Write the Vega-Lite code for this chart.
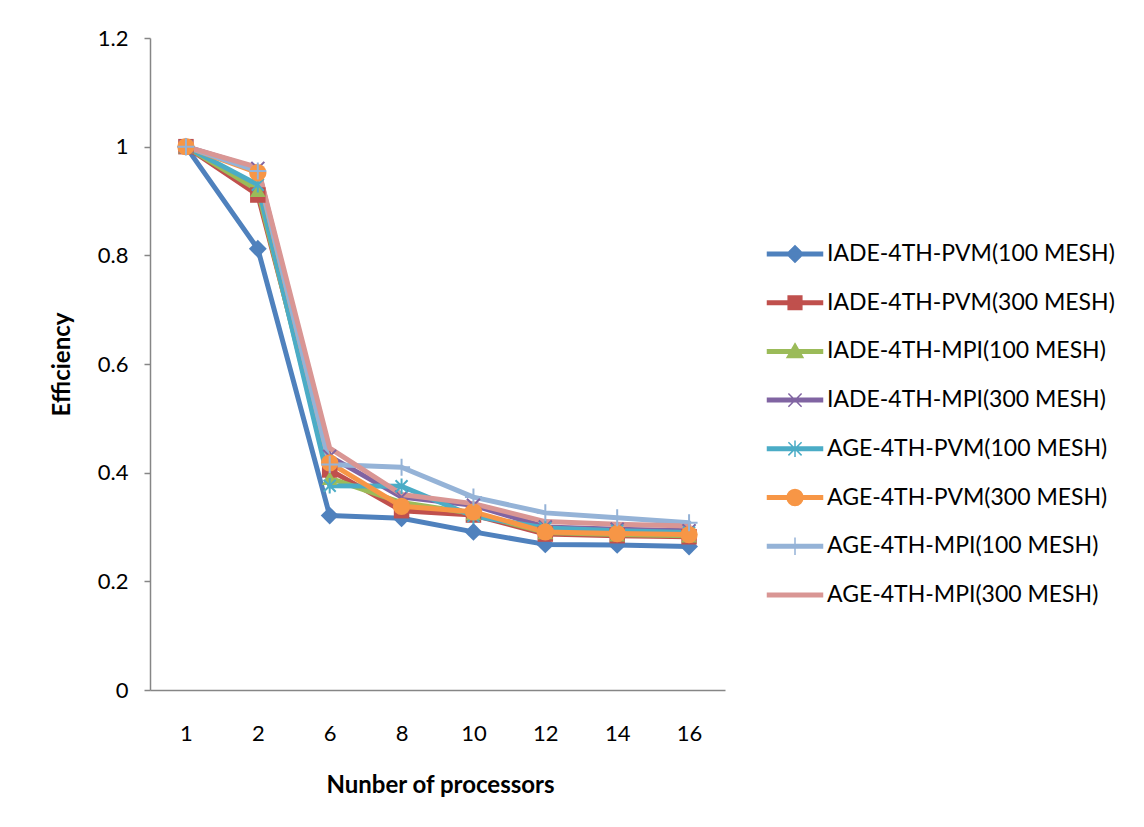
{
  "$schema": "https://vega.github.io/schema/vega-lite/v6.json",
  "width": 575,
  "height": 652,
  "autosize": {"type": "none"},
  "padding": {"left": 150, "top": 38, "right": 419, "bottom": 137},
  "background": "white",
  "config": {
    "view": {"stroke": null},
    "font": "Lato",
    "axis": {
      "labelFont": "Lato",
      "labelFontSize": 22,
      "labelColor": "#000000",
      "titleFont": "Lato",
      "titleFontSize": 24,
      "titleFontWeight": "bold",
      "titleColor": "#000000",
      "domainColor": "#868686",
      "domainWidth": 1.5,
      "tickColor": "#868686",
      "tickWidth": 1.5,
      "grid": false
    },
    "legend": {
      "labelFont": "Lato",
      "labelFontSize": 23,
      "labelColor": "#000000"
    }
  },
  "datasets": {
    "efficiency": [
      {"series": "IADE-4TH-PVM(100 MESH)", "processors": 1, "efficiency": 1},
      {"series": "IADE-4TH-PVM(100 MESH)", "processors": 2, "efficiency": 0.812},
      {"series": "IADE-4TH-PVM(100 MESH)", "processors": 6, "efficiency": 0.321},
      {"series": "IADE-4TH-PVM(100 MESH)", "processors": 8, "efficiency": 0.316},
      {"series": "IADE-4TH-PVM(100 MESH)", "processors": 10, "efficiency": 0.291},
      {"series": "IADE-4TH-PVM(100 MESH)", "processors": 12, "efficiency": 0.268},
      {"series": "IADE-4TH-PVM(100 MESH)", "processors": 14, "efficiency": 0.267},
      {"series": "IADE-4TH-PVM(100 MESH)", "processors": 16, "efficiency": 0.264},
      {"series": "IADE-4TH-PVM(300 MESH)", "processors": 1, "efficiency": 1},
      {"series": "IADE-4TH-PVM(300 MESH)", "processors": 2, "efficiency": 0.911},
      {"series": "IADE-4TH-PVM(300 MESH)", "processors": 6, "efficiency": 0.405},
      {"series": "IADE-4TH-PVM(300 MESH)", "processors": 8, "efficiency": 0.33},
      {"series": "IADE-4TH-PVM(300 MESH)", "processors": 10, "efficiency": 0.322},
      {"series": "IADE-4TH-PVM(300 MESH)", "processors": 12, "efficiency": 0.287},
      {"series": "IADE-4TH-PVM(300 MESH)", "processors": 14, "efficiency": 0.284},
      {"series": "IADE-4TH-PVM(300 MESH)", "processors": 16, "efficiency": 0.282},
      {"series": "IADE-4TH-MPI(100 MESH)", "processors": 1, "efficiency": 1},
      {"series": "IADE-4TH-MPI(100 MESH)", "processors": 2, "efficiency": 0.92},
      {"series": "IADE-4TH-MPI(100 MESH)", "processors": 6, "efficiency": 0.39},
      {"series": "IADE-4TH-MPI(100 MESH)", "processors": 8, "efficiency": 0.345},
      {"series": "IADE-4TH-MPI(100 MESH)", "processors": 10, "efficiency": 0.325},
      {"series": "IADE-4TH-MPI(100 MESH)", "processors": 12, "efficiency": 0.29},
      {"series": "IADE-4TH-MPI(100 MESH)", "processors": 14, "efficiency": 0.286},
      {"series": "IADE-4TH-MPI(100 MESH)", "processors": 16, "efficiency": 0.284},
      {"series": "IADE-4TH-MPI(300 MESH)", "processors": 1, "efficiency": 1},
      {"series": "IADE-4TH-MPI(300 MESH)", "processors": 2, "efficiency": 0.96},
      {"series": "IADE-4TH-MPI(300 MESH)", "processors": 6, "efficiency": 0.43},
      {"series": "IADE-4TH-MPI(300 MESH)", "processors": 8, "efficiency": 0.355},
      {"series": "IADE-4TH-MPI(300 MESH)", "processors": 10, "efficiency": 0.34},
      {"series": "IADE-4TH-MPI(300 MESH)", "processors": 12, "efficiency": 0.3},
      {"series": "IADE-4TH-MPI(300 MESH)", "processors": 14, "efficiency": 0.296},
      {"series": "IADE-4TH-MPI(300 MESH)", "processors": 16, "efficiency": 0.293},
      {"series": "AGE-4TH-PVM(100 MESH)", "processors": 1, "efficiency": 1},
      {"series": "AGE-4TH-PVM(100 MESH)", "processors": 2, "efficiency": 0.93},
      {"series": "AGE-4TH-PVM(100 MESH)", "processors": 6, "efficiency": 0.376},
      {"series": "AGE-4TH-PVM(100 MESH)", "processors": 8, "efficiency": 0.375},
      {"series": "AGE-4TH-PVM(100 MESH)", "processors": 10, "efficiency": 0.32},
      {"series": "AGE-4TH-PVM(100 MESH)", "processors": 12, "efficiency": 0.298},
      {"series": "AGE-4TH-PVM(100 MESH)", "processors": 14, "efficiency": 0.293},
      {"series": "AGE-4TH-PVM(100 MESH)", "processors": 16, "efficiency": 0.29},
      {"series": "AGE-4TH-PVM(300 MESH)", "processors": 1, "efficiency": 1},
      {"series": "AGE-4TH-PVM(300 MESH)", "processors": 2, "efficiency": 0.952},
      {"series": "AGE-4TH-PVM(300 MESH)", "processors": 6, "efficiency": 0.418},
      {"series": "AGE-4TH-PVM(300 MESH)", "processors": 8, "efficiency": 0.338},
      {"series": "AGE-4TH-PVM(300 MESH)", "processors": 10, "efficiency": 0.328},
      {"series": "AGE-4TH-PVM(300 MESH)", "processors": 12, "efficiency": 0.291},
      {"series": "AGE-4TH-PVM(300 MESH)", "processors": 14, "efficiency": 0.288},
      {"series": "AGE-4TH-PVM(300 MESH)", "processors": 16, "efficiency": 0.286},
      {"series": "AGE-4TH-MPI(100 MESH)", "processors": 1, "efficiency": 1},
      {"series": "AGE-4TH-MPI(100 MESH)", "processors": 2, "efficiency": 0.955},
      {"series": "AGE-4TH-MPI(100 MESH)", "processors": 6, "efficiency": 0.415},
      {"series": "AGE-4TH-MPI(100 MESH)", "processors": 8, "efficiency": 0.41},
      {"series": "AGE-4TH-MPI(100 MESH)", "processors": 10, "efficiency": 0.355},
      {"series": "AGE-4TH-MPI(100 MESH)", "processors": 12, "efficiency": 0.326},
      {"series": "AGE-4TH-MPI(100 MESH)", "processors": 14, "efficiency": 0.317},
      {"series": "AGE-4TH-MPI(100 MESH)", "processors": 16, "efficiency": 0.308},
      {"series": "AGE-4TH-MPI(300 MESH)", "processors": 1, "efficiency": 1},
      {"series": "AGE-4TH-MPI(300 MESH)", "processors": 2, "efficiency": 0.962},
      {"series": "AGE-4TH-MPI(300 MESH)", "processors": 6, "efficiency": 0.445},
      {"series": "AGE-4TH-MPI(300 MESH)", "processors": 8, "efficiency": 0.36},
      {"series": "AGE-4TH-MPI(300 MESH)", "processors": 10, "efficiency": 0.343},
      {"series": "AGE-4TH-MPI(300 MESH)", "processors": 12, "efficiency": 0.31},
      {"series": "AGE-4TH-MPI(300 MESH)", "processors": 14, "efficiency": 0.305},
      {"series": "AGE-4TH-MPI(300 MESH)", "processors": 16, "efficiency": 0.302}
    ]
  },
  "data": {"name": "efficiency"},
  "encoding": {
    "x": {
      "field": "processors",
      "type": "ordinal",
      "sort": "ascending",
      "axis": {
        "title": "Nunber of processors",
        "labelAngle": 0,
        "ticks": false,
        "tickSize": 0,
        "labelBaseline": "middle",
        "labelPadding": 43,
        "titleX": 290,
        "titleY": 95,
        "titleBaseline": "middle"
      }
    },
    "y": {
      "field": "efficiency",
      "type": "quantitative",
      "scale": {"domain": [0, 1.2], "nice": false, "zero": true},
      "axis": {
        "title": "Efficiency",
        "values": [0, 0.2, 0.4, 0.6, 0.8, 1, 1.2],
        "format": "~g",
        "tickSize": 6,
        "labelPadding": 16,
        "titleX": -88,
        "titleY": 326,
        "titleAngle": -90,
        "titleAlign": "center",
        "titleBaseline": "middle"
      }
    },
    "color": {
      "field": "series",
      "type": "nominal",
      "scale": {
        "domain": ["IADE-4TH-PVM(100 MESH)", "IADE-4TH-PVM(300 MESH)", "IADE-4TH-MPI(100 MESH)", "IADE-4TH-MPI(300 MESH)", "AGE-4TH-PVM(100 MESH)", "AGE-4TH-PVM(300 MESH)", "AGE-4TH-MPI(100 MESH)", "AGE-4TH-MPI(300 MESH)"],
        "range": ["#4F81BD", "#C0504D", "#9BBB59", "#8064A2", "#4BACC6", "#F79646", "#95B3D7", "#D99694"]
      },
      "legend": {
        "title": null,
        "orient": "none",
        "legendX": 633,
        "legendY": 204,
        "padding": 0,
        "symbolSize": 484,
        "labelOffset": 20,
        "rowPadding": 24.7,
        "labelLimit": 400,
        "encode": {
          "symbols": {
            "update": {
              "shape": {"signal": "['M-2.5,-0.16H2.5V0.16H-2.5ZM0,-0.75L0.75,0L0,0.75L-0.75,0Z', 'M-2.5,-0.16H2.5V0.16H-2.5ZM-0.62,-0.62H0.62V0.62H-0.62Z', 'M-2.5,-0.16H2.5V0.16H-2.5ZM0,-0.7L0.72,0.55L-0.72,0.55Z', 'M-2.5,-0.16H2.5V0.16H-2.5ZM-0.6,-0.6L0.6,0.6M-0.6,0.6L0.6,-0.6', 'M-2.5,-0.16H2.5V0.16H-2.5ZM-0.6,-0.6L0.6,0.6M-0.6,0.6L0.6,-0.6M0,-0.75L0,0.75', 'M-2.5,-0.16H2.5V0.16H-2.5ZM0.72,0A0.72,0.72 0 1,1 -0.72,0A0.72,0.72 0 1,1 0.72,0Z', 'M-2.5,-0.16H2.5V0.16H-2.5ZM0,-0.8L0,0.8', 'M-2.5,-0.16H2.5V0.16H-2.5Z'][indexof(['IADE-4TH-PVM(100 MESH)', 'IADE-4TH-PVM(300 MESH)', 'IADE-4TH-MPI(100 MESH)', 'IADE-4TH-MPI(300 MESH)', 'AGE-4TH-PVM(100 MESH)', 'AGE-4TH-PVM(300 MESH)', 'AGE-4TH-MPI(100 MESH)', 'AGE-4TH-MPI(300 MESH)'], datum.value)]"},
              "fill": {"scale": "color", "field": "value"},
              "stroke": {"scale": "color", "field": "value"},
              "strokeWidth": {"value": 1.5},
              "strokeDash": {"value": []},
              "size": {"value": 484},
              "opacity": {"value": 1}
            }
          }
        }
      }
    }
  },
  "layer": [
    {
      "mark": {"type": "line", "strokeWidth": 5, "strokeJoin": "round", "strokeCap": "round"}
    },
    {
      "transform": [{"filter": {"field": "series", "equal": "IADE-4TH-PVM(100 MESH)"}}],
      "mark": {"type": "point", "shape": "diamond", "filled": true, "size": 320, "opacity": 1}
    },
    {
      "transform": [{"filter": {"field": "series", "equal": "IADE-4TH-PVM(300 MESH)"}}],
      "mark": {"type": "point", "shape": "square", "filled": true, "size": 240, "opacity": 1}
    },
    {
      "transform": [{"filter": {"field": "series", "equal": "IADE-4TH-MPI(100 MESH)"}}],
      "mark": {"type": "point", "shape": "triangle-up", "filled": true, "size": 250, "opacity": 1}
    },
    {
      "transform": [{"filter": {"field": "series", "equal": "IADE-4TH-MPI(300 MESH)"}}],
      "mark": {"type": "point", "shape": "M-1,-1L1,1M-1,1L1,-1", "filled": false, "strokeWidth": 2, "size": 169, "opacity": 1}
    },
    {
      "transform": [{"filter": {"field": "series", "equal": "AGE-4TH-PVM(100 MESH)"}}],
      "mark": {"type": "point", "shape": "M-1,-1L1,1M-1,1L1,-1M0,-1.3L0,1.3", "filled": false, "strokeWidth": 2, "size": 144, "opacity": 1}
    },
    {
      "transform": [{"filter": {"field": "series", "equal": "AGE-4TH-PVM(300 MESH)"}}],
      "mark": {"type": "point", "shape": "circle", "filled": true, "size": 300, "opacity": 1}
    },
    {
      "transform": [{"filter": {"field": "series", "equal": "AGE-4TH-MPI(100 MESH)"}}],
      "mark": {"type": "point", "shape": "M-1,0L1,0M0,-1L0,1", "filled": false, "strokeWidth": 2, "size": 289, "opacity": 1}
    }
  ]
}
